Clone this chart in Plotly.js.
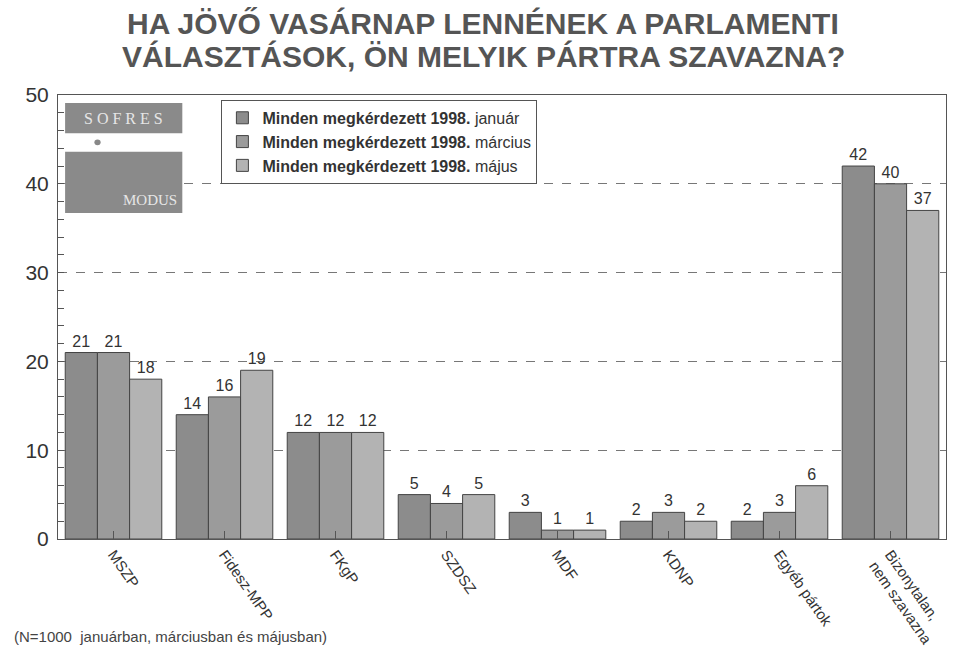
<!DOCTYPE html>
<html>
<head>
<meta charset="utf-8">
<script src="https://cdn.plot.ly/plotly-3.0.1.min.js"></script>
<style>html,body{margin:0;padding:0;background:#fff;}#chart{width:967px;height:652px;}</style>
</head>
<body>
<div id="chart"></div>
<script>
const categories = ["MSZP", "Fidesz-MPP", "FKgP", "SZDSZ", "MDF", "KDNP", "Egyéb pártok", "Bizonytalan,<br>nem szavazna"];
const seriesNames = ["<b>Minden megkérdezett 1998.</b> január", "<b>Minden megkérdezett 1998.</b> március", "<b>Minden megkérdezett 1998.</b> május"];
const january = [21, 14, 12, 5, 3, 2, 2, 42];
const march = [21, 16, 12, 4, 1, 3, 3, 40];
const may = [18, 19, 12, 5, 1, 2, 6, 37];
const yTicks = [0, 10, 20, 30, 40, 50];
const titleLines = ["HA JÖVŐ VASÁRNAP LENNÉNEK A PARLAMENTI", "VÁLASZTÁSOK, ÖN MELYIK PÁRTRA SZAVAZNA?"];

const seriesValues = [january, march, may];
const fills = ["#8c8c8c", "#9b9b9b", "#b3b3b3"];
const FONT = "Arial, Liberation Sans, sans-serif";

const traces = seriesValues.map((vals, i) => ({
  type: "bar",
  name: seriesNames[i],
  x: categories,
  y: vals,
  text: vals.map(String),
  textposition: "outside",
  cliponaxis: false,
  textfont: {family: FONT, size: 16, color: "#333"},
  marker: {color: fills[i], line: {color: "#444", width: 1}}
}));

const layout = {
  width: 967, height: 652,
  margin: {l: 58, r: 21, t: 95, b: 113},
  paper_bgcolor: "#fff", plot_bgcolor: "#fff",
  barmode: "group", bargap: 0.13, bargroupgap: 0,
  font: {family: FONT, color: "#333"},
  xaxis: {
    showline: true, linecolor: "#555", linewidth: 1, mirror: true,
    ticks: "inside", ticklen: 8, tickcolor: "#555",
    tickangle: 55,
    tickfont: {size: 15, color: "#333"},
    fixedrange: true
  },
  yaxis: {
    range: [0, 50], tickvals: yTicks,
    showline: true, linecolor: "#555", linewidth: 1, mirror: true,
    ticks: "inside", ticklen: 6, tickcolor: "#555",
    minor: {dtick: 2, ticks: "inside", ticklen: 6, tickcolor: "#555", showgrid: false},
    showgrid: true, gridcolor: "#777", griddash: "dash", gridwidth: 1,
    zeroline: false,
    tickfont: {size: 21, color: "#333"},
    ticklabelstandoff: 4,
    fixedrange: true
  },
  showlegend: true,
  legend: {
    x: 0.184, y: 0.989, xanchor: "left", yanchor: "top",
    bgcolor: "#fff", bordercolor: "#555", borderwidth: 1,
    font: {size: 16, color: "#333"},
    tracegroupgap: 0, itemwidth: 30
  },
  shapes: [
    {type: "rect", xref: "paper", yref: "paper", x0: 0.008, x1: 0.14, y0: 0.914, y1: 0.982, fillcolor: "#8a8a8a", line: {width: 0}},
    {type: "rect", xref: "paper", yref: "paper", x0: 0.008, x1: 0.14, y0: 0.734, y1: 0.872, fillcolor: "#8a8a8a", line: {width: 0}},
    {type: "circle", xref: "paper", yref: "paper", x0: 0.041, x1: 0.048, y0: 0.887, y1: 0.9, fillcolor: "#888", line: {width: 0}}
  ],
  annotations: [
    {text: "<b>" + titleLines[0] + "</b>", xref: "paper", yref: "paper", x: 0.479, y: 1.16, xanchor: "center", yanchor: "middle", showarrow: false,
     font: {family: FONT, size: 30, color: "#555"}},
    {text: "<b>" + titleLines[1] + "</b>", xref: "paper", yref: "paper", x: 0.479, y: 1.086, xanchor: "center", yanchor: "middle", showarrow: false,
     font: {family: FONT, size: 30, color: "#555"}},
    {text: "S O F R E S", xref: "paper", yref: "paper", x: 0.074, y: 0.948, xanchor: "center", yanchor: "middle", showarrow: false,
     font: {family: "Liberation Serif, DejaVu Serif, serif", size: 16, color: "#e6e6e6"}},
    {text: "MODUS", xref: "paper", yref: "paper", x: 0.136, y: 0.742, xanchor: "right", yanchor: "bottom", showarrow: false,
     font: {family: "Liberation Serif, DejaVu Serif, serif", size: 15, color: "#e6e6e6"}},
    {text: "(N=1000  januárban, márciusban és májusban)", xref: "paper", yref: "paper",
     x: -0.052, y: -0.22, xanchor: "left", yanchor: "middle", showarrow: false,
     font: {size: 15, color: "#444"}}
  ]
};

Plotly.newPlot("chart", traces, layout, {displayModeBar: false, staticPlot: true});
</script>
</body>
</html>
